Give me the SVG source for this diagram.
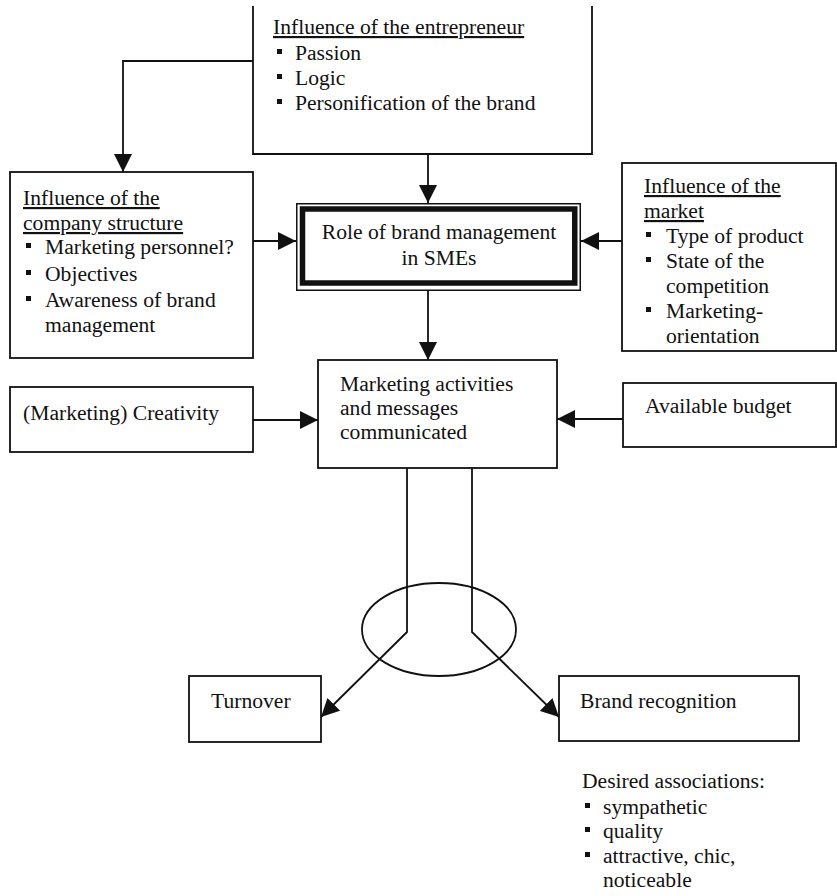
<svg xmlns="http://www.w3.org/2000/svg" width="837" height="896" viewBox="0 0 837 896">
  <style>
    .box { fill: #fff; stroke: #111; stroke-width: 1.8; }
    .ln { fill: none; stroke: #111; stroke-width: 1.8; }
    .t { font-family: "Liberation Serif", "Times New Roman", serif; font-size: 21.6px; fill: #111; }
    .u { text-decoration: underline; }
    .b { fill: #111; }
  </style>
  <defs>
    <marker id="arr" viewBox="0 0 18 18" refX="18" refY="9" markerWidth="18" markerHeight="18" markerUnits="userSpaceOnUse" orient="auto">
      <path d="M0,0 L18,9 L0,18 Z" fill="#111"/>
    </marker>
  </defs>

  <rect width="837" height="896" fill="#fff"/>

  <!-- Entrepreneur (box continues past the top edge) -->
  <g id="entrepreneur">
    <path class="ln" d="M253,6 V154 H592 V6"/>
    <text class="t u" x="273" y="34">Influence of the entrepreneur</text>
    <rect class="b" x="277" y="49" width="5" height="5"/>
    <text class="t" x="295" y="60">Passion</text>
    <rect class="b" x="277" y="74" width="5" height="5"/>
    <text class="t" x="295" y="85">Logic</text>
    <rect class="b" x="277" y="99" width="5" height="5"/>
    <text class="t" x="295" y="110">Personification of the brand</text>
  </g>

  <!-- Company structure -->
  <g id="company">
    <rect class="box" x="10" y="172" width="243" height="186"/>
    <text class="t u" x="23" y="205">Influence of the</text>
    <text class="t u" x="23" y="230">company structure</text>
    <rect class="b" x="26" y="243" width="5" height="5"/>
    <text class="t" x="45" y="254">Marketing personnel?</text>
    <rect class="b" x="26" y="270" width="5" height="5"/>
    <text class="t" x="45" y="281">Objectives</text>
    <rect class="b" x="26" y="296" width="5" height="5"/>
    <text class="t" x="45" y="307">Awareness of brand</text>
    <text class="t" x="45" y="332">management</text>
  </g>

  <!-- Role of brand management -->
  <g id="role">
    <rect x="296.75" y="203.75" width="283.5" height="86.5" fill="#fff" stroke="#111" stroke-width="1.5"/>
    <rect x="302.5" y="209" width="272.25" height="74" fill="none" stroke="#111" stroke-width="5.5"/>
    <text class="t" x="439" y="239" text-anchor="middle">Role of brand management</text>
    <text class="t" x="439" y="265" text-anchor="middle">in SMEs</text>
  </g>

  <!-- Market -->
  <g id="market">
    <rect class="box" x="622" y="163" width="214" height="188"/>
    <text class="t u" x="644" y="193">Influence of the</text>
    <text class="t u" x="644" y="218">market</text>
    <rect class="b" x="646" y="232" width="5" height="5"/>
    <text class="t" x="666" y="243">Type of product</text>
    <rect class="b" x="646" y="257" width="5" height="5"/>
    <text class="t" x="666" y="268">State of the</text>
    <text class="t" x="666" y="293">competition</text>
    <rect class="b" x="646" y="307" width="5" height="5"/>
    <text class="t" x="666" y="318">Marketing-</text>
    <text class="t" x="666" y="343">orientation</text>
  </g>

  <!-- Creativity -->
  <g id="creativity">
    <rect class="box" x="10" y="387" width="243" height="65"/>
    <text class="t" x="23" y="420">(Marketing) Creativity</text>
  </g>

  <!-- Marketing activities -->
  <g id="activities">
    <rect class="box" x="318" y="360" width="239" height="108"/>
    <text class="t" x="340" y="391">Marketing activities</text>
    <text class="t" x="340" y="415">and messages</text>
    <text class="t" x="340" y="439">communicated</text>
  </g>

  <!-- Budget -->
  <g id="budget">
    <rect class="box" x="623" y="383" width="213" height="64"/>
    <text class="t" x="645" y="413">Available budget</text>
  </g>

  <!-- Grouping ellipse -->
  <g id="link">
    <ellipse class="ln" cx="439" cy="629.5" rx="77" ry="46.5"/>
  </g>

  <!-- Turnover -->
  <g id="turnover">
    <rect class="box" x="189" y="676" width="132" height="66"/>
    <text class="t" x="211" y="708">Turnover</text>
  </g>

  <!-- Brand recognition -->
  <g id="recognition">
    <rect class="box" x="559" y="676" width="240" height="65"/>
    <text class="t" x="580" y="708">Brand recognition</text>
  </g>

  <!-- Desired associations -->
  <g id="associations">
    <text class="t" x="582" y="788">Desired associations:</text>
    <rect class="b" x="585" y="803" width="5" height="5"/>
    <text class="t" x="603" y="814">sympathetic</text>
    <rect class="b" x="585" y="827" width="5" height="5"/>
    <text class="t" x="603" y="838">quality</text>
    <rect class="b" x="585" y="852" width="5" height="5"/>
    <text class="t" x="603" y="863">attractive, chic,</text>
    <text class="t" x="603" y="887">noticeable</text>
  </g>

  <!-- Connectors -->
  <g id="connectors">
    <path class="ln" d="M253,61 H123 V172" marker-end="url(#arr)"/>
    <path class="ln" d="M428,154 V203" marker-end="url(#arr)"/>
    <path class="ln" d="M253,241 H296" marker-end="url(#arr)"/>
    <path class="ln" d="M622,241 H581" marker-end="url(#arr)"/>
    <path class="ln" d="M428,290 V360" marker-end="url(#arr)"/>
    <path class="ln" d="M253,420 H318" marker-end="url(#arr)"/>
    <path class="ln" d="M623,419 H557" marker-end="url(#arr)"/>
    <path class="ln" d="M407,468 V632 L321,717" marker-end="url(#arr)"/>
    <path class="ln" d="M472,468 V632 L559,717" marker-end="url(#arr)"/>
  </g>
</svg>
